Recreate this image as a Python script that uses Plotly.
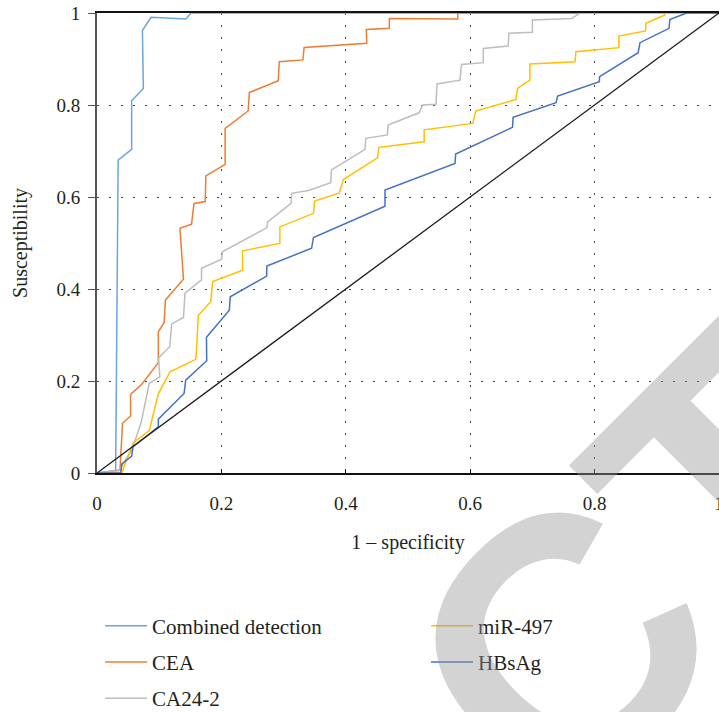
import plotly.graph_objects as go

# ROC curves: 1 - specificity (x) vs susceptibility (y)
combined_x = [0, 0.03, 0.034, 0.0557, 0.0557, 0.0745, 0.073, 0.0868, 0.143, 0.151, 1.0]
combined_y = [0, 0.005, 0.68, 0.7036, 0.809, 0.836, 0.962, 0.9906, 0.987, 1.0, 1.0]

cea_x = [0, 0.037, 0.041, 0.054, 0.054, 0.072, 0.0986, 0.0986, 0.108, 0.110, 0.139,
         0.1334, 0.152, 0.156, 0.174, 0.175, 0.206, 0.206, 0.243, 0.245, 0.2915, 0.293,
         0.331, 0.333, 0.4336, 0.433, 0.470, 0.470, 0.580, 0.580, 1.0]
cea_y = [0, 0.0065, 0.108, 0.124, 0.171, 0.193, 0.240, 0.307, 0.327, 0.376, 0.421,
         0.532, 0.541, 0.586, 0.590, 0.646, 0.671, 0.749, 0.787, 0.827, 0.853, 0.894,
         0.898, 0.925, 0.934, 0.964, 0.967, 0.988, 0.987, 1.0, 1.0]

ca242_x = [0, 0.035, 0.056, 0.0707, 0.084, 0.101, 0.099, 0.117, 0.12, 0.139,
           0.1415, 0.168, 0.168, 0.2005, 0.2015, 0.273, 0.2744, 0.312, 0.313, 0.34,
           0.3757, 0.377, 0.431, 0.432, 0.4668, 0.468, 0.5177, 0.5236, 0.545, 0.5466,
           0.5836, 0.586, 0.621, 0.621, 0.661, 0.6624, 0.70, 0.70, 0.763, 0.7765, 1.0]
ca242_y = [0, 0.005, 0.05, 0.108, 0.195, 0.209, 0.25, 0.275, 0.324, 0.338,
           0.391, 0.42, 0.445, 0.4646, 0.481, 0.533, 0.546, 0.586, 0.608, 0.614,
           0.631, 0.659, 0.7036, 0.7275, 0.735, 0.7565, 0.783, 0.80, 0.8015, 0.8457,
           0.854, 0.888, 0.892, 0.923, 0.928, 0.956, 0.958, 0.985, 0.988, 1.0, 1.0]

mir497_x = [0, 0.0397, 0.0584, 0.084, 0.0986, 0.1174, 0.159, 0.163, 0.1828, 0.186,
            0.234, 0.234, 0.294, 0.294, 0.348, 0.350, 0.3896, 0.396, 0.451, 0.453,
            0.526, 0.526, 0.604, 0.609, 0.6736, 0.676, 0.696, 0.696, 0.7685, 0.770,
            0.839, 0.839, 0.882, 0.8826, 0.913, 0.913, 1.0]
mir497_y = [0, 0, 0.066, 0.092, 0.172, 0.220, 0.247, 0.343, 0.3725, 0.416,
            0.441, 0.483, 0.499, 0.535, 0.5645, 0.591, 0.609, 0.638, 0.685, 0.708,
            0.720, 0.746, 0.760, 0.787, 0.812, 0.836, 0.854, 0.889, 0.894, 0.916,
            0.9246, 0.95, 0.961, 0.9776, 0.9957, 1.0, 1.0]

hbsag_x = [0, 0.038, 0.04, 0.0557, 0.058, 0.0986, 0.0986, 0.14, 0.1426, 0.1764,
           0.176, 0.2127, 0.2143, 0.2728, 0.273, 0.345, 0.348, 0.463, 0.463, 0.5756,
           0.5766, 0.668, 0.669, 0.738, 0.7406, 0.8076, 0.808, 0.870, 0.873, 0.9196,
           0.921, 0.948, 1.0]
hbsag_y = [0, 0, 0.02, 0.037, 0.057, 0.1006, 0.117, 0.173, 0.202, 0.244,
           0.295, 0.354, 0.383, 0.428, 0.45, 0.4885, 0.512, 0.580, 0.615, 0.673,
           0.6935, 0.7515, 0.7732, 0.805, 0.8196, 0.8507, 0.8616, 0.9137, 0.9355, 0.9667,
           0.986, 1.0, 1.0]

reference_x = [0, 1]
reference_y = [0, 1]

tick_vals = [0, 0.2, 0.4, 0.6, 0.8, 1]
tick_text = ["0", "0.2", "0.4", "0.6", "0.8", "1"]

SERIF = "Liberation Serif"
INK = "#231f20"

series = [
    ("Combined detection", combined_x, combined_y, "#6aa6dd", "legend"),
    ("CEA", cea_x, cea_y, "#ed7d31", "legend"),
    ("CA24-2", ca242_x, ca242_y, "#bdbdbd", "legend"),
    ("miR-497", mir497_x, mir497_y, "#ffc000", "legend2"),
    ("HBsAg", hbsag_x, hbsag_y, "#4472c4", "legend2"),
]

fig = go.Figure()
for name, xs, ys, color, leg in series:
    fig.add_trace(go.Scatter(
        x=xs, y=ys, mode="lines", name=name, legend=leg, legendgroup=name,
        line=dict(color=color, width=1.5),
    ))

fig.add_trace(go.Scatter(
    x=reference_x, y=reference_y, mode="lines", showlegend=False,
    line=dict(color="#1a1a1a", width=1.3),
))

axis_common = dict(
    range=[0, 1], tickvals=tick_vals, ticktext=tick_text,
    showgrid=True, gridcolor="#444444", gridwidth=1, griddash="2px,10px",
    zeroline=False, showline=True, mirror=True, ticklabeloverflow="allow",
    tickfont=dict(family=SERIF, size=19, color=INK),
)

fig.update_xaxes(
    **axis_common, linecolor="#111111", linewidth=1.5,
    ticks="inside", ticklen=4, tickcolor="#111111", ticklabelstandoff=12,
    title=dict(text="1 – specificity", font=dict(family=SERIF, size=20, color=INK),
               standoff=22),
)
fig.update_yaxes(
    **axis_common, linecolor="#555555", linewidth=2,
    ticks="outside", ticklen=7, tickcolor="#555555", ticklabelstandoff=4,
    title=dict(text="Susceptibility", font=dict(family=SERIF, size=20, color=INK),
               standoff=23),
)

legend_common = dict(
    orientation="v", yanchor="top", xanchor="left", y=-0.288,
    font=dict(family=SERIF, size=21, color=INK),
    bgcolor="rgba(0,0,0,0)", tracegroupgap=6, itemwidth=42,
)

fig.update_layout(
    width=719, height=712,
    margin=dict(l=97, r=0, t=13, b=239, autoexpand=False),
    paper_bgcolor="white", plot_bgcolor="white",
    legend=dict(**legend_common, x=0.005),
    legend2=dict(**legend_common, x=0.529),
    annotations=[dict(
        text="RETRACTED", xref="paper", yref="paper", x=0.45, y=-0.778,
        xanchor="center", yanchor="middle", showarrow=False, textangle=-45,
        font=dict(family="Liberation Sans", size=360, color="rgba(150,150,150,0.42)",
                  weight="bold"),
    )],
)

fig.write_html("out.html")
